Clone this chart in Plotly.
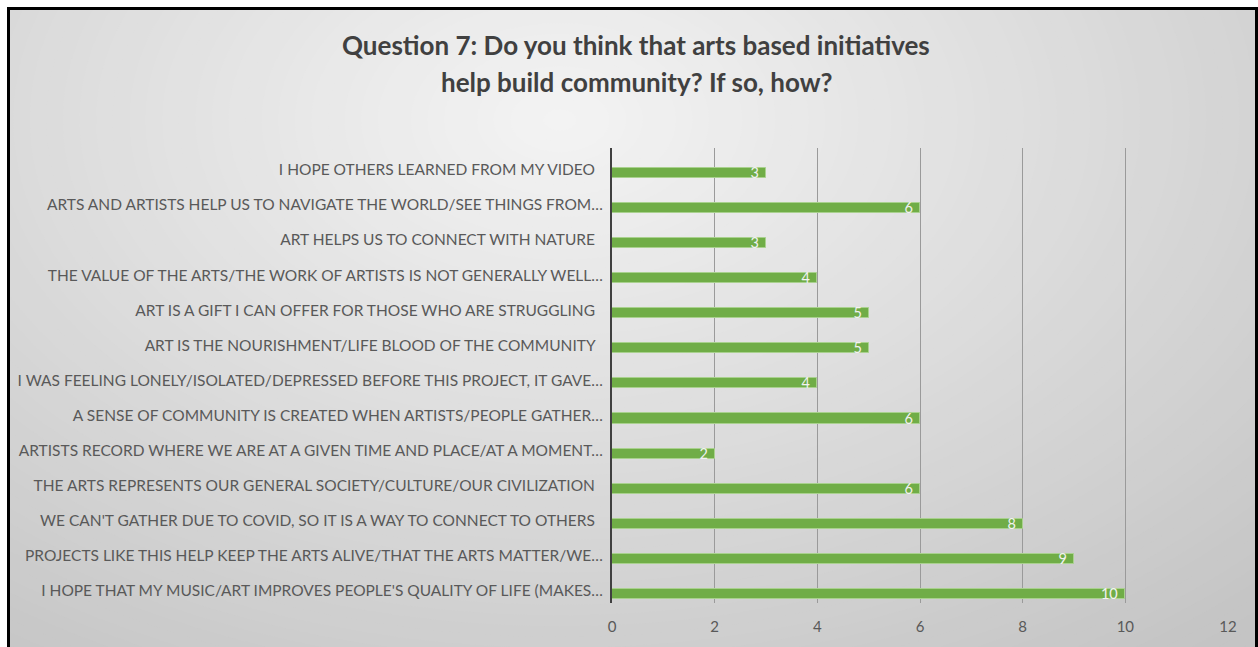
import plotly.graph_objects as go

# ---------------- data (bottom -> top, as in the source chart) ----------------
categories = [
    "I HOPE THAT MY MUSIC/ART IMPROVES PEOPLE'S QUALITY OF LIFE (MAKES…",
    "PROJECTS LIKE THIS HELP KEEP THE ARTS ALIVE/THAT THE ARTS MATTER/WE…",
    "WE CAN'T GATHER DUE TO COVID, SO IT IS A WAY TO CONNECT TO OTHERS  ",
    "THE ARTS REPRESENTS OUR GENERAL SOCIETY/CULTURE/OUR CIVILIZATION  ",
    "ARTISTS RECORD WHERE WE ARE AT A GIVEN TIME AND PLACE/AT A MOMENT…",
    "A SENSE OF COMMUNITY IS CREATED WHEN ARTISTS/PEOPLE GATHER…",
    "I WAS FEELING LONELY/ISOLATED/DEPRESSED BEFORE THIS PROJECT, IT GAVE…",
    "ART IS THE NOURISHMENT/LIFE BLOOD OF THE COMMUNITY  ",
    "ART IS A GIFT I CAN OFFER FOR THOSE WHO ARE STRUGGLING  ",
    "THE VALUE OF THE ARTS/THE WORK OF ARTISTS IS NOT GENERALLY WELL…",
    "ART HELPS US TO CONNECT WITH NATURE  ",
    "ARTS AND ARTISTS HELP US TO NAVIGATE THE WORLD/SEE THINGS FROM…",
    "I HOPE OTHERS LEARNED FROM MY VIDEO  ",
]
counts = [10, 9, 8, 6, 2, 6, 4, 5, 5, 4, 3, 6, 3]
x_ticks = [0, 2, 4, 6, 8, 10, 12]
title_lines = ["Question 7: Do you think that arts based initiatives",
               "help build community? If so, how?"]

# ---------------- layout geometry ----------------
W, H = 1258, 647
L, R, T, B = 612, 30, 148, 44
PW, PH = W - L - R, H - T - B


def px(x):
    return (x - L) / PW


def py(y):
    return (H - B - y) / PH


FONT = "Lato"

fig = go.Figure()
fig.add_trace(go.Bar(
    x=counts, y=categories, orientation="h",
    marker=dict(color="#70AD47", line=dict(color="#A9D18E", width=1)),
    width=0.29, offset=-0.23,
    text=[f"{c} " for c in counts],
    textposition="inside", insidetextanchor="end", constraintext="none",
    textangle=0,
    textfont=dict(family=FONT, size=14.5, color="#F2F2F2"),
    cliponaxis=False, hoverinfo="skip",
))

# ---------------- background gradient (radial, light centre) ----------------
shapes = []
cx, cy, rx, ry = 560, 120, 800, 520
N = 70
for i in range(N):
    s = 1.45 * (1 - i / N)
    t = min(s / 1.3, 1.0)
    v = int(round(244 - (244 - 196) * t))
    col = f"rgb({v},{v},{v})"
    shapes.append(dict(type="circle", xref="paper", yref="paper", layer="below",
                       x0=px(cx - rx * s), x1=px(cx + rx * s),
                       y0=py(cy + ry * s), y1=py(cy - ry * s),
                       fillcolor=col, line=dict(width=0)))
# white margin outside frame
shapes.append(dict(type="rect", xref="paper", yref="paper", layer="below",
                   x0=px(-5), x1=px(W + 5), y0=py(7), y1=py(-5),
                   fillcolor="white", line=dict(width=0)))
shapes.append(dict(type="rect", xref="paper", yref="paper", layer="below",
                   x0=px(-5), x1=px(7), y0=py(H + 5), y1=py(-5),
                   fillcolor="white", line=dict(width=0)))
# black frame (top, left, right)
for (x0, y0, x1, y1) in [(7, 8.5, W, 8.5), (8.5, 8, 8.5, H + 5), (W - 1.5, 8, W - 1.5, H + 5)]:
    shapes.append(dict(type="line", xref="paper", yref="paper", layer="below",
                       x0=px(x0), x1=px(x1), y0=py(y0), y1=py(y1),
                       line=dict(color="black", width=3)))

annotations = []
for line_txt, yc in zip(title_lines, [45, 82]):
    annotations.append(dict(text=f"<b>{line_txt}</b>", xref="paper", yref="paper",
                            x=px(636), y=py(yc), xanchor="center", yanchor="middle",
                            showarrow=False,
                            font=dict(family=FONT, size=26, color="#404040")))

fig.update_layout(
    width=W, height=H,
    margin=dict(l=L, r=R, t=T, b=B, pad=0),
    paper_bgcolor="#C4C4C4", plot_bgcolor="rgba(0,0,0,0)",
    showlegend=False, shapes=shapes, annotations=annotations,
    bargap=0,
)
fig.update_xaxes(range=[0, 12], tickvals=x_ticks, showgrid=True,
                 gridcolor="#9A9A9A", gridwidth=1, zeroline=False,
                 showline=False, ticks="outside", ticklen=10, tickcolor="rgba(0,0,0,0)",
                 tickfont=dict(family=FONT, size=15, color="#595959"), fixedrange=True)
fig.update_yaxes(type="category", categoryorder="array", categoryarray=categories,
                 range=[-0.34, 12.62], showgrid=False, zeroline=False,
                 showline=True, linecolor="#404040", linewidth=2,
                 ticks="", ticklabelstandoff=4,
                 tickfont=dict(family=FONT, size=15.5, color="#595959"), fixedrange=True)

fig.write_html("out.html")
